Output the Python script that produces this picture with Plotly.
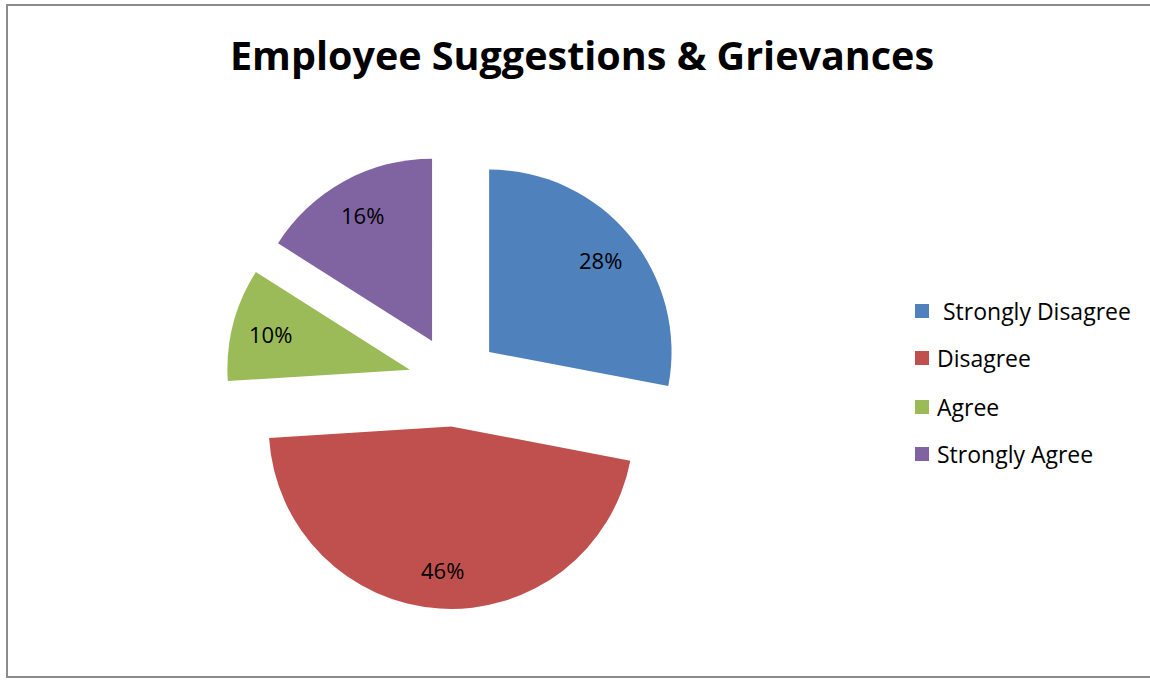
import math
import plotly.graph_objects as go

# Survey responses (percent of employees)
categories = ["Strongly Disagree", "Disagree", "Agree", "Strongly Agree"]
shares = [28, 46, 10, 16]
colors = ["#4F81BD", "#C0504D", "#9BBB59", "#8064A2"]
legend_labels = [" Strongly Disagree", "Disagree", "Agree", "Strongly Agree"]

W, H = 1150, 681
FONT = "'Open Sans', sans-serif"
PULL = 0.25
LABEL_R = 0.79  # label distance from slice apex, as a fraction of radius

# Pie placement in pixels
cx, cy, half = 454, 381, 228
radius = half / (1 + PULL)

fig = go.Figure(
    go.Pie(
        labels=categories,
        values=shares,
        sort=False,
        direction="clockwise",
        rotation=0,
        pull=[PULL] * len(shares),
        marker=dict(colors=colors, line=dict(width=0)),
        textposition="none",
        showlegend=False,
        hoverinfo="label+percent",
        domain=dict(
            x=[(cx - half) / W, (cx + half) / W],
            y=[1 - (cy + half) / H, 1 - (cy - half) / H],
        ),
    )
)

shapes = [
    # chart frame
    dict(type="rect", xref="paper", yref="paper",
         x0=7 / W, x1=1160 / W, y0=1 - 677 / H, y1=1 - 5 / H,
         line=dict(color="#8C8C8C", width=2), fillcolor="rgba(0,0,0,0)"),
]
annotations = [
    dict(text="<b>Employee Suggestions &amp; Grievances</b>", x=582 / W, y=1 - 55 / H,
         xref="paper", yref="paper", showarrow=False, xanchor="center", yanchor="middle",
         font=dict(family=FONT, size=39.5, color="black")),
]

# Percentage labels placed along each slice's mid-angle
total = sum(shares)
start = 0.0
for v in shares:
    mid = (start + v / 2) / total * 2 * math.pi
    start += v
    dx, dy = math.sin(mid), -math.cos(mid)
    dist = radius * (PULL + LABEL_R)
    px, py = cx + dx * dist, cy + dy * dist
    annotations.append(dict(text=f"{round(v / total * 100)}%", x=px / W, y=1 - py / H,
                            xref="paper", yref="paper", showarrow=False,
                            xanchor="center", yanchor="middle",
                            font=dict(family=FONT, size=22, color="black")))

# Legend drawn as swatches + labels
legend_y = [311, 358, 407, 454]
for name, col, ly in zip(legend_labels, colors, legend_y):
    shapes.append(dict(type="rect", xref="paper", yref="paper",
                       x0=915 / W, x1=929 / W, y0=1 - (ly + 7) / H, y1=1 - (ly - 7) / H,
                       line=dict(width=0), fillcolor=col))
    annotations.append(dict(text=name.replace(" ", "&nbsp;", 1) if name.startswith(" ") else name,
                            x=935 / W, y=1 - ly / H, xref="paper", yref="paper",
                            showarrow=False, xanchor="left", yanchor="middle",
                            font=dict(family=FONT, size=23, color="black")))

fig.update_layout(
    width=W, height=H,
    margin=dict(l=0, r=0, t=0, b=0),
    paper_bgcolor="white",
    plot_bgcolor="white",
    shapes=shapes,
    annotations=annotations,
)

fig.write_html("out.html")
